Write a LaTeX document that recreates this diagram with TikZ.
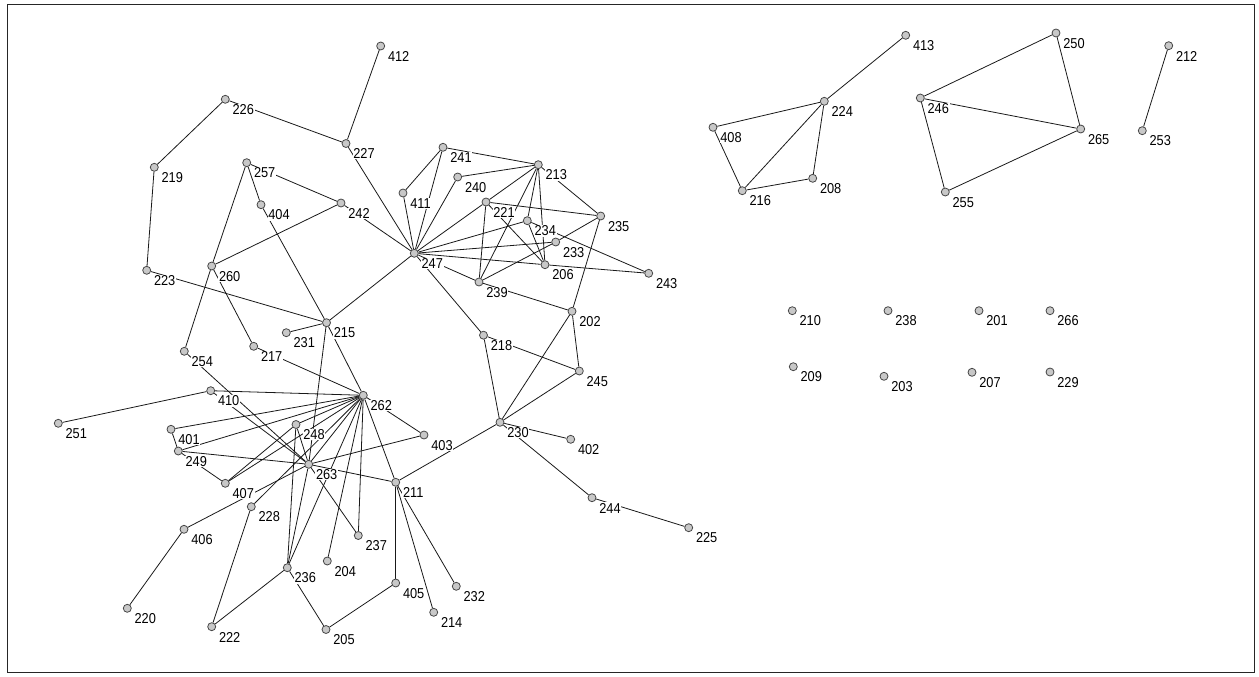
\documentclass[tikz,border=0pt]{standalone}
\usepackage{fontspec}
\setmainfont{Liberation Sans}
\usepackage{graphicx}
\pgfdeclarelayer{bg}
\pgfsetlayers{bg,main}
\definecolor{vfill}{RGB}{200,200,200}
\definecolor{vdraw}{RGB}{70,70,70}
\definecolor{ecol}{RGB}{25,25,25}
\tikzset{
  vtx/.style={circle,draw=vdraw,fill=vfill,line width=0.8pt,minimum size=8pt,inner sep=0pt},
  lbl/.style={anchor=west,fill=white,inner sep=0.6pt,font=\fontsize{12.8}{14}\selectfont},
  edge/.style={draw=ecol,line width=0.8pt},
  frame/.style={draw=black!85,line width=1.2pt}
}
\newcommand\vx[3]{\node[vtx] (n#1) at (#2,#3) {};\node[lbl] (l#1) at (#2+6.5,#3+10.3) {\scalebox{1}[1.12]{#1}};}
\begin{document}
\begin{tikzpicture}[x=1pt,y=-1pt]
\useasboundingbox (0,0) rectangle (1259,677);
\draw[frame] (7.5,4.5) rectangle (1254.5,672.5);
\vx{226}{225.3}{99.3}
\vx{219}{154.3}{167.3}
\vx{257}{246.7}{162.7}
\vx{404}{261}{204.7}
\vx{260}{211.7}{266}
\vx{223}{146.7}{270.3}
\vx{242}{341}{203}
\vx{412}{380.7}{46}
\vx{227}{346}{143.5}
\vx{241}{443}{147.3}
\vx{213}{538.3}{164.7}
\vx{240}{457.7}{177}
\vx{411}{403}{193}
\vx{221}{486}{202}
\vx{234}{527.3}{220.7}
\vx{235}{600.7}{216}
\vx{233}{555.7}{242}
\vx{247}{414.3}{253.3}
\vx{206}{545}{264.7}
\vx{243}{648.7}{273.3}
\vx{239}{479}{282}
\vx{202}{572}{311.3}
\vx{215}{326.5}{322.7}
\vx{218}{483.5}{335.2}
\vx{231}{286.3}{332.7}
\vx{217}{253.7}{346.3}
\vx{254}{184.3}{351.3}
\vx{410}{210.7}{390.7}
\vx{262}{363.3}{395.3}
\vx{251}{58.3}{423.3}
\vx{401}{171}{429.3}
\vx{249}{178.3}{451}
\vx{248}{296}{424.5}
\vx{263}{308.7}{464.3}
\vx{407}{225.3}{483.3}
\vx{228}{251.3}{506.7}
\vx{406}{184}{529.3}
\vx{236}{287.3}{567.7}
\vx{220}{127.3}{608.3}
\vx{222}{211.7}{626.7}
\vx{205}{326}{629.5}
\vx{204}{327.3}{561}
\vx{403}{424}{435}
\vx{211}{395.7}{482.3}
\vx{230}{500}{422.3}
\vx{237}{358.3}{535.5}
\vx{405}{395.7}{583}
\vx{232}{456.3}{586.3}
\vx{214}{433.7}{612.3}
\vx{245}{579.3}{371}
\vx{402}{570.7}{439.3}
\vx{244}{592}{497.7}
\vx{225}{688.7}{527.7}
\vx{413}{905.7}{35.3}
\vx{250}{1056}{33}
\vx{212}{1168.7}{45.7}
\vx{224}{824.3}{101.3}
\vx{246}{920.3}{98}
\vx{408}{713}{127.3}
\vx{265}{1080.7}{129}
\vx{253}{1142.3}{130.7}
\vx{208}{812.7}{178.3}
\vx{216}{742.3}{190.7}
\vx{255}{945.3}{192}
\vx{210}{792.3}{310.7}
\vx{238}{888}{310.7}
\vx{201}{979}{310.7}
\vx{266}{1050}{310.7}
\vx{209}{793.3}{366.7}
\vx{203}{884}{376.3}
\vx{207}{972}{372.3}
\vx{229}{1050}{372}
\begin{pgfonlayer}{bg}
\foreach \a/\b in {226/219,226/227,219/223,412/227,227/247,
 257/404,257/260,257/242,260/242,242/247,
 404/215,223/215,260/254,260/217,
 215/247,215/231,215/262,215/263,
 247/411,247/241,247/240,247/221,221/213,247/234,247/233,247/206,206/243,247/239,247/218,
 241/411,241/213,240/213,
 213/239,213/234,213/206,213/235,
 221/235,221/239,221/206,
 234/206,234/243,
 239/233,233/235,239/202,
 202/235,202/245,202/230,
 218/230,218/245,230/245,230/402,230/244,244/225,230/211,
 262/217,262/410,262/401,262/249,262/407,262/248,262/228,262/263,262/236,262/204,262/237,262/211,262/403,
 251/410,410/263,254/263,
 401/249,249/407,249/263,
 407/248,406/263,406/220,
 248/263,248/236,
 228/222,263/236,263/237,263/211,263/403,
 236/222,236/205,205/405,405/211,211/214,211/232,
 413/224,224/408,224/216,224/208,408/216,216/208,
 250/246,250/265,246/265,246/255,255/265,212/253}
 \draw[edge] (n\a) -- (n\b);
\end{pgfonlayer}
\end{tikzpicture}
\end{document}
